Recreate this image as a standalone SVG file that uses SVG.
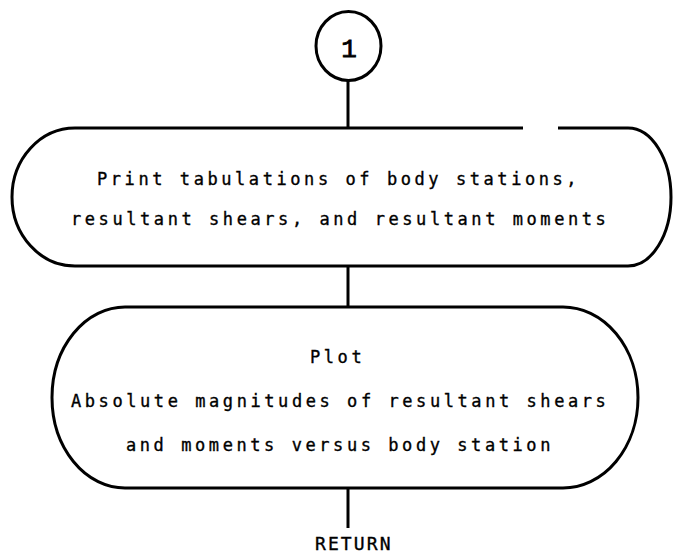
<svg xmlns="http://www.w3.org/2000/svg" width="674" height="553" viewBox="0 0 674 553">
<style>
.ln{fill:none;stroke:#000;stroke-width:3;stroke-linecap:butt}
.t{font-family:"DejaVu Sans Mono","Liberation Mono",monospace;font-size:17px;letter-spacing:3.57px;fill:#000;stroke:#000;stroke-width:0.35px}
</style>
<rect width="674" height="553" fill="#fff"/>
<g id="connectors">
<line class="ln" x1="348" y1="81" x2="348" y2="128"/>
<line class="ln" x1="348" y1="266" x2="348" y2="307"/>
<line class="ln" x1="348" y1="488" x2="348" y2="528"/>
</g>
<g id="connector1">
<ellipse class="ln" cx="348.5" cy="46" rx="32.5" ry="34.5"/>
<text x="349" y="57" text-anchor="middle" style="font-family:'Liberation Mono','DejaVu Sans Mono',monospace;font-size:26px;stroke:#000;stroke-width:0.8px">1</text>
</g>
<g id="print">
<path class="ln" d="M75 128 H523 M558 128 H628 A43 69 0 0 1 628 266 H75 A63 69 0 0 1 75 128"/>
<text class="t" x="97" y="185">Print tabulations of body stations,</text>
<text class="t" x="71" y="225">resultant shears, and resultant moments</text>
</g>
<g id="plot">
<path class="ln" d="M125 307 H563 A75 90.5 0 0 1 563 488 H125 A73 90.5 0 0 1 125 307 Z"/>
<text class="t" x="310" y="363">Plot</text>
<text class="t" x="71" y="407">Absolute magnitudes of resultant shears</text>
<text class="t" x="126" y="451">and moments versus body station</text>
</g>
<g id="return">
<text x="315" y="550" style="font-family:'DejaVu Sans Mono','Liberation Mono',monospace;font-size:18px;letter-spacing:2.1px;stroke:#000;stroke-width:0.35px">RETURN</text>
</g>
</svg>
